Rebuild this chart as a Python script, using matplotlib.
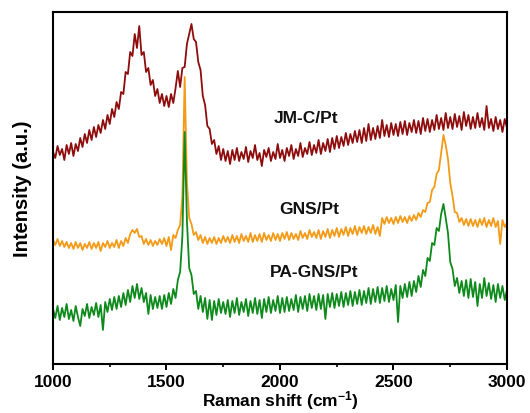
import numpy as np
import matplotlib
matplotlib.use("Agg")
import matplotlib.pyplot as plt
from matplotlib.ticker import MultipleLocator

plt.rcParams['font.family'] = ['Liberation Sans', 'DejaVu Sans']
plt.rcParams['font.weight'] = 'bold'
plt.rcParams['mathtext.fontset'] = 'custom'
plt.rcParams['mathtext.rm'] = 'Liberation Sans:bold'
plt.rcParams['mathtext.bf'] = 'Liberation Sans:bold'
plt.rcParams['mathtext.it'] = 'Liberation Sans:bold'

# Raman shift axis, one point every 10 cm-1
raman_shift = np.arange(1000, 3001, 10)

# intensities (a.u., stacked with offsets as in the figure)
jm_c_pt = [
    212, 206, 218, 209, 215, 204, 219, 210, 221, 208,
    220, 213, 226, 217, 230, 221, 234, 224, 237, 227,
    239, 231, 244, 235, 249, 240, 255, 247, 262, 255,
    272, 270, 292, 290, 312, 308, 330, 316, 338, 309,
    312, 292, 296, 279, 284, 268, 275, 261, 270, 258,
    268, 257, 270, 261, 276, 293, 277, 296, 297, 320,
    330, 340, 325, 322, 302, 294, 268, 259, 238, 235,
    220, 224, 210, 218, 204, 215, 203, 213, 200, 214,
    204, 216, 203, 212, 205, 217, 202, 213, 206, 219,
    204, 211, 198, 214, 207, 216, 203, 212, 205, 220,
    206, 214, 203, 216, 208, 219, 205, 215, 208, 221,
    207, 216, 210, 222, 209, 219, 211, 224, 210, 221,
    213, 225, 212, 226, 215, 228, 216, 227, 218, 231,
    219, 230, 221, 233, 222, 234, 221, 236, 223, 240,
    224, 236, 225, 238, 226, 244, 228, 239, 227, 241,
    229, 240, 228, 242, 230, 243, 229, 241, 232, 244,
    231, 243, 230, 246, 233, 245, 232, 244, 234, 249,
    235, 246, 234, 251, 236, 247, 235, 250, 237, 248,
    234, 252, 238, 249, 235, 247, 236, 251, 237, 246,
    234, 258, 236, 245, 233, 247, 235, 244, 232, 245,
    236,
]

gns_pt = [
    124, 119, 125, 118, 123, 117, 122, 116, 121, 115,
    122, 116, 121, 114, 120, 116, 122, 115, 121, 116,
    122, 113, 121, 117, 123, 116, 121, 117, 124, 116,
    123, 118, 126, 121, 130, 134, 131, 135, 127, 128,
    120, 125, 119, 124, 118, 123, 119, 125, 120, 126,
    118, 127, 114, 129, 126, 134, 139, 168, 287, 182,
    146, 140, 129, 132, 124, 129, 121, 127, 120, 126,
    121, 127, 120, 126, 121, 128, 122, 127, 121, 129,
    122, 128, 121, 130, 123, 128, 122, 131, 122, 129,
    123, 130, 122, 131, 124, 129, 123, 131, 124, 130,
    123, 131, 125, 132, 124, 131, 125, 130, 124, 133,
    126, 131, 125, 134, 127, 132, 126, 134, 125, 133,
    127, 135, 126, 134, 128, 136, 127, 135, 129, 137,
    128, 136, 130, 138, 129, 137, 131, 138, 130, 137,
    131, 139, 130, 137, 128, 146, 140, 147, 141, 146,
    140, 147, 141, 148, 142, 147, 141, 148, 143, 149,
    144, 151, 147, 154, 152, 161, 162, 174, 177, 190,
    194, 211, 229, 219, 205, 181, 168, 152, 151, 142,
    146, 139, 145, 138, 145, 138, 144, 137, 145, 139,
    146, 137, 144, 138, 146, 137, 143, 120, 144, 137,
    141,
]

pa_gns_pt = [
    55, 46, 58, 44, 56, 47, 60, 45, 54, 43,
    58, 47, 38, 55, 48, 60, 46, 57, 49, 61,
    47, 59, 34, 62, 52, 65, 54, 67, 55, 68,
    57, 71, 59, 74, 62, 78, 66, 80, 65, 76,
    62, 71, 50, 69, 55, 67, 56, 68, 55, 69,
    57, 71, 60, 75, 66, 84, 92, 128, 232, 143,
    96, 89, 70, 73, 55, 68, 52, 66, 45, 64,
    44, 63, 49, 65, 51, 62, 50, 64, 47, 63,
    51, 66, 49, 62, 52, 65, 48, 63, 51, 66,
    50, 64, 46, 65, 52, 67, 51, 64, 53, 68,
    51, 66, 52, 67, 53, 65, 54, 69, 52, 67,
    55, 68, 53, 70, 56, 68, 54, 70, 55, 69,
    45, 70, 57, 71, 56, 70, 58, 72, 57, 71,
    59, 73, 58, 72, 60, 74, 59, 73, 61, 76,
    60, 75, 62, 77, 61, 76, 63, 78, 62, 75,
    64, 79, 42, 78, 66, 80, 67, 82, 68, 83,
    72, 88, 77, 94, 88, 106, 103, 121, 119, 136,
    133, 150, 160, 146, 131, 102, 95, 78, 86, 71,
    83, 68, 84, 66, 85, 67, 82, 58, 80, 66,
    86, 68, 81, 65, 79, 62, 80, 66, 78, 64,
    74,
]

series = [
    (jm_c_pt, '#8E0C0C', 'JM-C/Pt', 2113, 246),
    (gns_pt, '#F39A17', 'GNS/Pt', 2127, 155),
    (pa_gns_pt, '#0E8A1C', 'PA-GNS/Pt', 2150, 92),
]

fig = plt.figure(figsize=(5.3, 4.14), dpi=100)
ax = fig.add_axes([0.1, 0.1184, 0.8566, 0.8502])

for values, color, name, tx, ty in series:
    ax.plot(raman_shift, values, color=color, lw=1.3)
    ax.text(tx, ty, name, ha='center', va='center', fontsize=12.5,
            fontweight='bold', color='#111111')

ax.set_xlim(1000, 3000)
ax.set_ylim(0, 352)
ax.set_yticks([])
ax.xaxis.set_major_locator(MultipleLocator(500))
ax.xaxis.set_minor_locator(MultipleLocator(250))
ax.tick_params(axis='x', which='major', direction='out', length=4.5,
               width=1.4, labelsize=12.5, pad=3)
ax.tick_params(axis='x', which='minor', direction='out', length=2.3, width=1.2)
for tl in ax.get_xticklabels():
    tl.set_fontweight('bold')
for sp in ax.spines.values():
    sp.set_linewidth(1.5)

ax.set_xlabel('Raman shift (cm$^{-1}$)', fontsize=12.5, fontweight='bold',
              labelpad=-1)
ax.set_ylabel('Intensity (a.u.)', fontsize=14.5, fontweight='bold',
              labelpad=15)

fig.savefig('out.png', dpi=100)
